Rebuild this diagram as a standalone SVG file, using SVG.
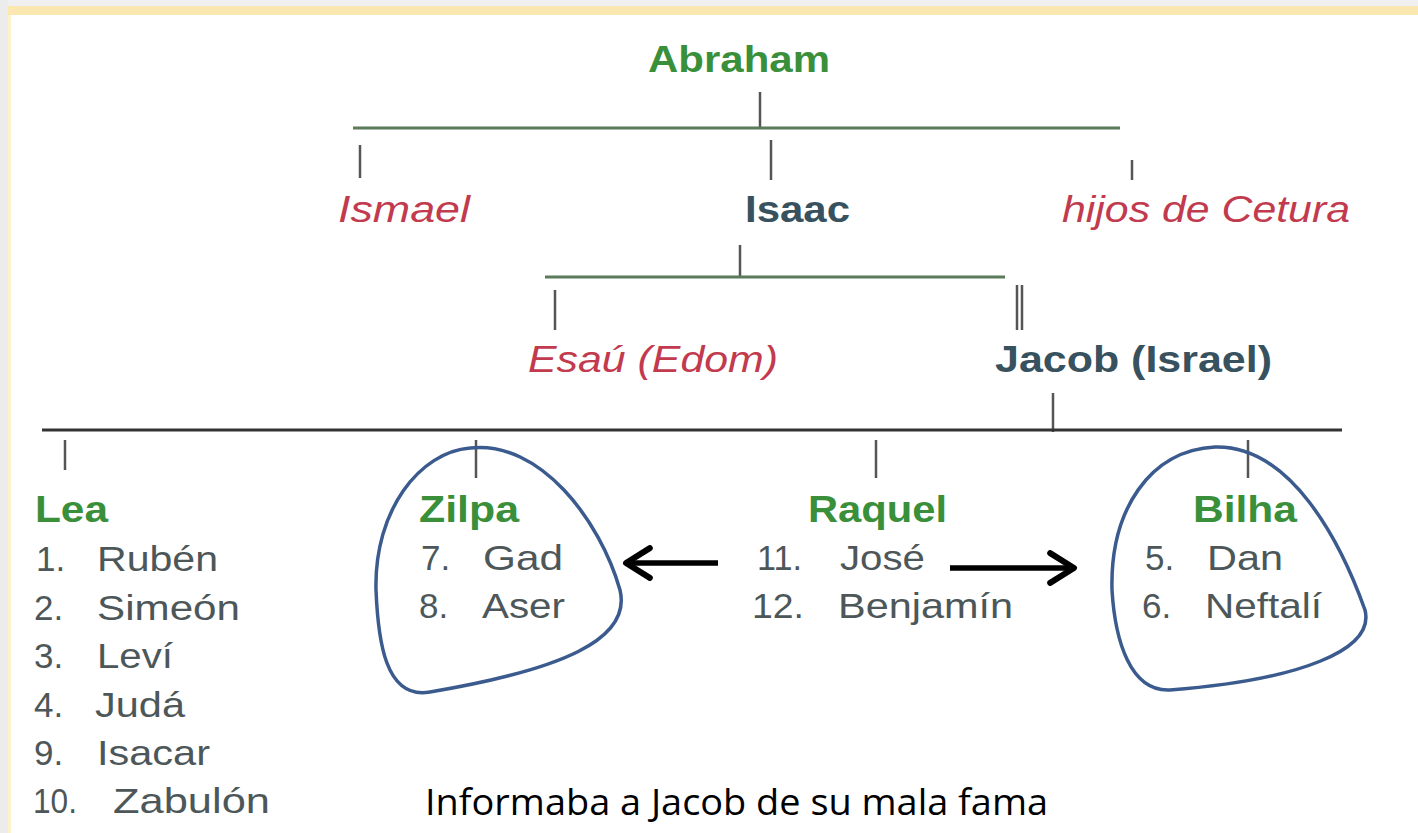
<svg xmlns="http://www.w3.org/2000/svg" width="1418" height="833" viewBox="0 0 1418 833">
<style>
text{font-family:"Liberation Sans",Arial,sans-serif}
.g{fill:#3a8f3a;font-weight:bold;font-size:36px}
.d{fill:#37525e;font-weight:bold;font-size:36px}
.r{fill:#c23a4e;font-style:italic;font-size:36px}
.l{fill:#4d5759;font-size:35px}
.c{font-family:"Open Sans","Liberation Sans",sans-serif;font-size:36px;fill:#000}
.ln{stroke:#5b7b5b;stroke-width:3;fill:none}
.bk{stroke:#333;stroke-width:3;fill:none}
.tk{stroke:#555;stroke-width:2.5;fill:none}
.blob{fill:none;stroke:#3b5b8e;stroke-width:3.5}
.arr{stroke:#000;stroke-width:5.5;fill:none}
</style>
<defs>
<marker id="ah" viewBox="0 0 12 12" refX="10" refY="6" markerWidth="6.5" markerHeight="6.5" orient="auto" markerUnits="strokeWidth">
<path d="M2 1 L10 6 L2 11" fill="none" stroke="#000" stroke-width="2" stroke-linecap="round" stroke-linejoin="round"/>
</marker>
</defs>
<rect x="0" y="0" width="1418" height="833" fill="#fff"/>
<rect x="0" y="0" width="1418" height="6" fill="#f0f0f0"/>
<rect x="8" y="6" width="1410" height="9" fill="#fbe8b0"/>
<rect x="0" y="0" width="8" height="833" fill="#ececec"/>
<rect x="8" y="15" width="3" height="818" fill="#fdf2cc"/>

<g id="connectors">
<line class="tk" x1="760" y1="92" x2="760" y2="128"/>
<line class="ln" x1="353" y1="128" x2="1120" y2="128"/>
<line class="tk" x1="360" y1="145" x2="360" y2="178"/>
<line class="tk" x1="771" y1="140" x2="771" y2="180"/>
<line class="tk" x1="1132" y1="160" x2="1132" y2="180"/>
<line class="tk" x1="740" y1="245" x2="740" y2="277"/>
<line class="ln" x1="545" y1="277" x2="1005" y2="277"/>
<line class="tk" x1="555" y1="290" x2="555" y2="330"/>
<line class="tk" x1="1017" y1="285" x2="1017" y2="330"/>
<line class="tk" x1="1022" y1="285" x2="1022" y2="330"/>
<line class="tk" x1="1053" y1="393" x2="1053" y2="432"/>
<line class="bk" x1="42" y1="430" x2="1342" y2="430"/>
<line class="tk" x1="65" y1="440" x2="65" y2="470"/>
<line class="tk" x1="476" y1="440" x2="476" y2="478"/>
<line class="tk" x1="876" y1="440" x2="876" y2="478"/>
<line class="tk" x1="1248" y1="440" x2="1248" y2="478"/>
<line class="arr" x1="718" y1="563" x2="626" y2="563" marker-end="url(#ah)"/>
<line class="arr" x1="950" y1="568" x2="1074" y2="568" marker-end="url(#ah)"/>
</g>

<g id="abraham"><text class="g" x="648" y="72" textLength="182" lengthAdjust="spacingAndGlyphs">Abraham</text></g>
<g id="ismael"><text class="r" x="338" y="222" textLength="132" lengthAdjust="spacingAndGlyphs">Ismael</text></g>
<g id="isaac"><text class="d" x="745" y="222" textLength="105" lengthAdjust="spacingAndGlyphs">Isaac</text></g>
<g id="cetura"><text class="r" x="1062" y="222" textLength="288" lengthAdjust="spacingAndGlyphs">hijos de Cetura</text></g>
<g id="esau"><text class="r" x="528" y="372" textLength="250" lengthAdjust="spacingAndGlyphs">Esaú (Edom)</text></g>
<g id="jacob"><text class="d" x="995" y="372" textLength="277" lengthAdjust="spacingAndGlyphs">Jacob (Israel)</text></g>

<g id="lea">
<text class="g" x="35" y="522" textLength="73" lengthAdjust="spacingAndGlyphs">Lea</text>
<text class="l" x="36" y="571">1.</text><text class="l" x="97" y="571" textLength="121" lengthAdjust="spacingAndGlyphs">Rubén</text>
<text class="l" x="34" y="620">2.</text><text class="l" x="97" y="620" textLength="143" lengthAdjust="spacingAndGlyphs">Simeón</text>
<text class="l" x="34" y="668">3.</text><text class="l" x="97" y="668" textLength="76" lengthAdjust="spacingAndGlyphs">Leví</text>
<text class="l" x="34" y="717">4.</text><text class="l" x="95" y="717" textLength="90" lengthAdjust="spacingAndGlyphs">Judá</text>
<text class="l" x="34" y="765">9.</text><text class="l" x="97" y="765" textLength="113" lengthAdjust="spacingAndGlyphs">Isacar</text>
<text class="l" x="33" y="813" textLength="44" lengthAdjust="spacingAndGlyphs">10.</text><text class="l" x="113" y="813" textLength="157" lengthAdjust="spacingAndGlyphs">Zabulón</text>
</g>

<g id="zilpa">
<text class="g" x="419" y="522" textLength="100" lengthAdjust="spacingAndGlyphs">Zilpa</text>
<text class="l" x="421" y="570">7.</text><text class="l" x="483" y="570" textLength="80" lengthAdjust="spacingAndGlyphs">Gad</text>
<text class="l" x="419" y="618">8.</text><text class="l" x="482" y="618" textLength="83" lengthAdjust="spacingAndGlyphs">Aser</text>
<path class="blob" d="M470 448 C540 440 600 520 620 590 C632 640 560 670 430 692 C385 700 378 640 376 590 C374 510 420 452 470 448 Z"/>
</g>

<g id="raquel">
<text class="g" x="808" y="522" textLength="139" lengthAdjust="spacingAndGlyphs">Raquel</text>
<text class="l" x="757" y="570" textLength="45" lengthAdjust="spacingAndGlyphs">11.</text><text class="l" x="840" y="570" textLength="85" lengthAdjust="spacingAndGlyphs">José</text>
<text class="l" x="752" y="618" textLength="52" lengthAdjust="spacingAndGlyphs">12.</text><text class="l" x="838" y="618" textLength="175" lengthAdjust="spacingAndGlyphs">Benjamín</text>
</g>

<g id="bilha">
<text class="g" x="1193" y="522" textLength="104" lengthAdjust="spacingAndGlyphs">Bilha</text>
<text class="l" x="1145" y="570">5.</text><text class="l" x="1207" y="570" textLength="76" lengthAdjust="spacingAndGlyphs">Dan</text>
<text class="l" x="1142" y="618">6.</text><text class="l" x="1205" y="618" textLength="117" lengthAdjust="spacingAndGlyphs">Neftalí</text>
<path class="blob" d="M1215 447 C1290 445 1340 540 1365 610 C1375 650 1300 680 1170 690 C1130 692 1115 640 1112 590 C1110 510 1150 450 1215 447 Z"/>
</g>

<g id="caption"><text class="c" x="425" y="815" textLength="623" lengthAdjust="spacingAndGlyphs">Informaba a Jacob de su mala fama</text></g>
</svg>
